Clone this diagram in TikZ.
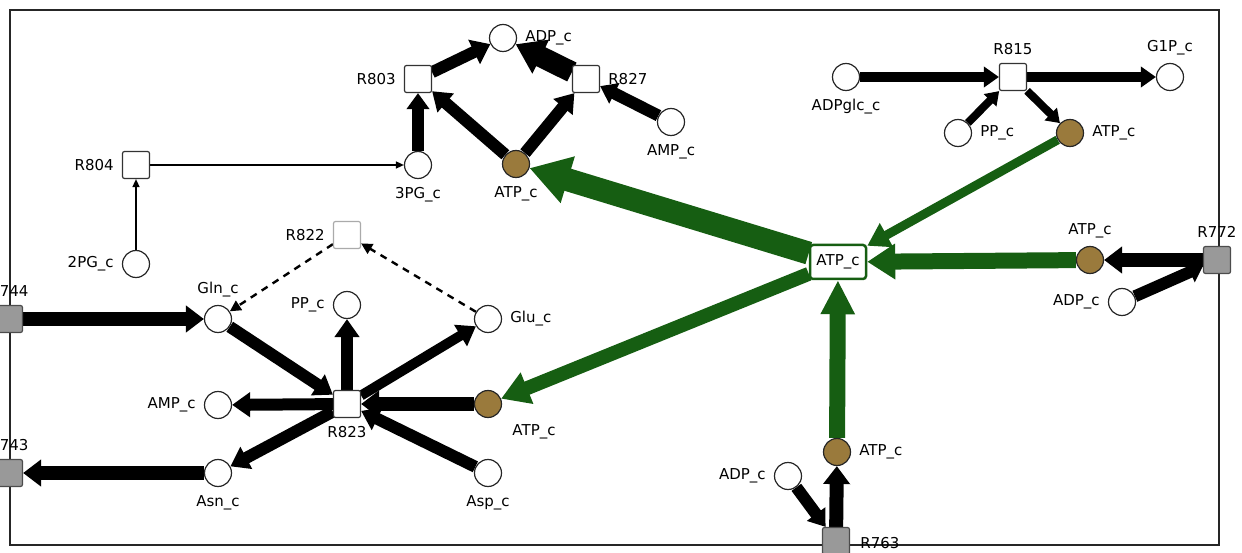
\documentclass[tikz,border=0pt]{standalone}
\usepackage{fontspec}
\setmainfont{DejaVu Sans}
\usetikzlibrary{arrows.meta}
\pgfdeclarelayer{bg}
\pgfsetlayers{bg,main}
\definecolor{grn}{RGB}{22,94,18}
\definecolor{brn}{RGB}{154,122,60}
\definecolor{gry}{RGB}{153,153,153}
\definecolor{lgry}{RGB}{170,170,170}
\begin{document}
\begin{tikzpicture}[x=1pt,y=-1pt,
  font=\fontsize{15}{17}\selectfont,
  every label/.style={inner sep=1pt},
  label distance=7pt,
  met/.style={circle, draw=black!85, line width=1.2pt, fill=white, minimum size=27pt, inner sep=0pt},
  atp/.style={met, fill=brn},
  rxn/.style={rectangle, rounded corners=2pt, draw=black!80, line width=1.2pt, fill=white, minimum size=27pt, inner sep=0pt},
  ext/.style={rxn, fill=gry, draw=black!70},
  ghost/.style={rxn, draw=lgry},
  hub/.style={rectangle, rounded corners=3pt, draw=grn, line width=2.5pt, fill=white, minimum width=56pt, minimum height=34pt, inner sep=1pt},
  arr/.style n args={3}{line width=#1pt, -{Triangle[length=#2pt, width=#3pt]}},
  garr/.style n args={3}{draw=grn, line width=#1pt, -{Triangle[length=#2pt, width=#3pt]}},
  thin/.style={line width=1.5pt, -{Triangle[length=8pt, width=7pt]}},
  dsh/.style={line width=2.4pt, dash pattern=on 7pt off 6pt, -{Triangle[length=11pt, width=11pt]}},
  frame/.style={draw=black!85, line width=1.5pt}
]
\useasboundingbox (0,0) rectangle (1242,553);

% nodes
\node[met]  (adp1) at (503,38)  [label=right:ADP\_c] {};
\node[rxn]  (r803) at (418,79)  [label=left:R803] {};
\node[rxn]  (r827) at (586,79)  [label=right:R827] {};
\node[met]  (amp1) at (671,122) [label=below:AMP\_c] {};
\node[met]  (pg3)  at (418,165) [label=below:3PG\_c] {};
\node[atp]  (atp1) at (516,164) [label=below:ATP\_c] {};
\node[rxn]  (r804) at (136,165) [label=left:R804] {};
\node[met]  (pg2)  at (136,264) [label=left:2PG\_c] {};

\node[met]  (adpg) at (846,77)  [label=below:ADPglc\_c] {};
\node[rxn]  (r815) at (1013,77) [label=above:R815] {};
\node[met]  (g1p)  at (1170,77) [label=above:G1P\_c] {};
\node[met]  (pp1)  at (958,133) [label=right:PP\_c] {};
\node[atp]  (atp2) at (1070,133) [label=right:ATP\_c] {};

\node[ghost] (r822) at (347,235) [label=left:R822] {};
\node[met]  (gln)  at (218,319) [label=above:Gln\_c] {};
\node[met]  (pp2)  at (347,305) [label=left:PP\_c] {};
\node[met]  (glu)  at (488,319) [label=right:Glu\_c] {};
\node[ext]  (r744) at (9,319)   [label=above:R744] {};
\node[met]  (amp2) at (218,405) [label=left:AMP\_c] {};
\node[rxn]  (r823) at (347,404) [label=below:R823] {};
\node[atp]  (atp3) at (488,404) {};
\node[inner sep=1pt] (atp3l) at (534,432) {ATP\_c};
\node[ext]  (r743) at (9,473)   [label=above:R743] {};
\node[met]  (asn)  at (218,473) [label=below:Asn\_c] {};
\node[met]  (asp)  at (488,473) [label=below:Asp\_c] {};

\node[hub]  (hub)  at (838,262) {ATP\_c};
\node[atp]  (atp4) at (1090,260) [label=above:ATP\_c] {};
\node[ext]  (r772) at (1217,260) [label=above:R772] {};
\node[met]  (adp2) at (1122,302) [label=left:ADP\_c] {};
\node[atp]  (atp5) at (837,452) [label=right:ATP\_c] {};
\node[met]  (adp3) at (788,476) [label=left:ADP\_c] {};
\node[ext]  (r763) at (836,541) {};
\node[inner sep=1pt] (r763l) at (880,543) {R763};

\begin{pgfonlayer}{bg}
\draw[frame] (10,10) rectangle (1219,545);
% top-left cluster
\draw[arr={12}{18}{26}] (r803) -- (adp1);
\draw[arr={21}{28}{36}] (r827) -- (adp1);
\draw[arr={12}{16}{22}] (amp1) -- (r827);
\draw[arr={12}{18}{24}] (atp1) -- (r803);
\draw[arr={12}{18}{24}] (atp1) -- (r827);
\draw[arr={12}{16}{22}] (pg3) -- (r803);
\draw[thin] (r804) -- (pg3);
\draw[thin] (pg2) -- (r804);
% R815
\draw[arr={10}{15}{20}] (adpg) -- (r815);
\draw[arr={10}{15}{20}] (r815) -- (g1p);
\draw[arr={8}{13}{17}] (pp1) -- (r815);
\draw[arr={8}{13}{17}] (r815) -- (atp2);
% green
\draw[garr={9}{22}{26}] (atp2) -- (hub);
\draw[garr={23}{40}{46}] (hub) -- (atp1);
\draw[garr={14}{28}{32}] (hub) -- (atp3);
\draw[garr={16}{28}{34}] (atp4) -- (hub);
\draw[garr={16}{34}{32}] (atp5) -- (hub);
% right / bottom exchange
\draw[arr={14}{18}{26}] (r772) -- (atp4);
\draw[arr={12}{14}{22}] (adp2) -- (r772);
\draw[arr={14}{18}{26}] (r763) -- (atp5);
\draw[arr={12}{16}{22}] (adp3) -- (r763);
% left cluster
\draw[arr={14}{18}{26}] (r744) -- (gln);
\draw[arr={14}{18}{26}] (asn) -- (r743);
\draw[arr={12}{18}{24}] (gln) -- (r823);
\draw[arr={12}{18}{24}] (r823) -- (pp2);
\draw[arr={10}{18}{24}] (r823) -- (glu);
\draw[arr={12}{18}{24}] (r823) -- (amp2);
\draw[arr={12}{18}{24}] (r823) -- (asn);
\draw[arr={14}{18}{26}] (atp3) -- (r823);
\draw[arr={12}{18}{24}] (asp) -- (r823);
\draw[dsh] (r822) -- (gln);
\draw[dsh] (glu) -- (r822);
\end{pgfonlayer}
\end{tikzpicture}
\end{document}
